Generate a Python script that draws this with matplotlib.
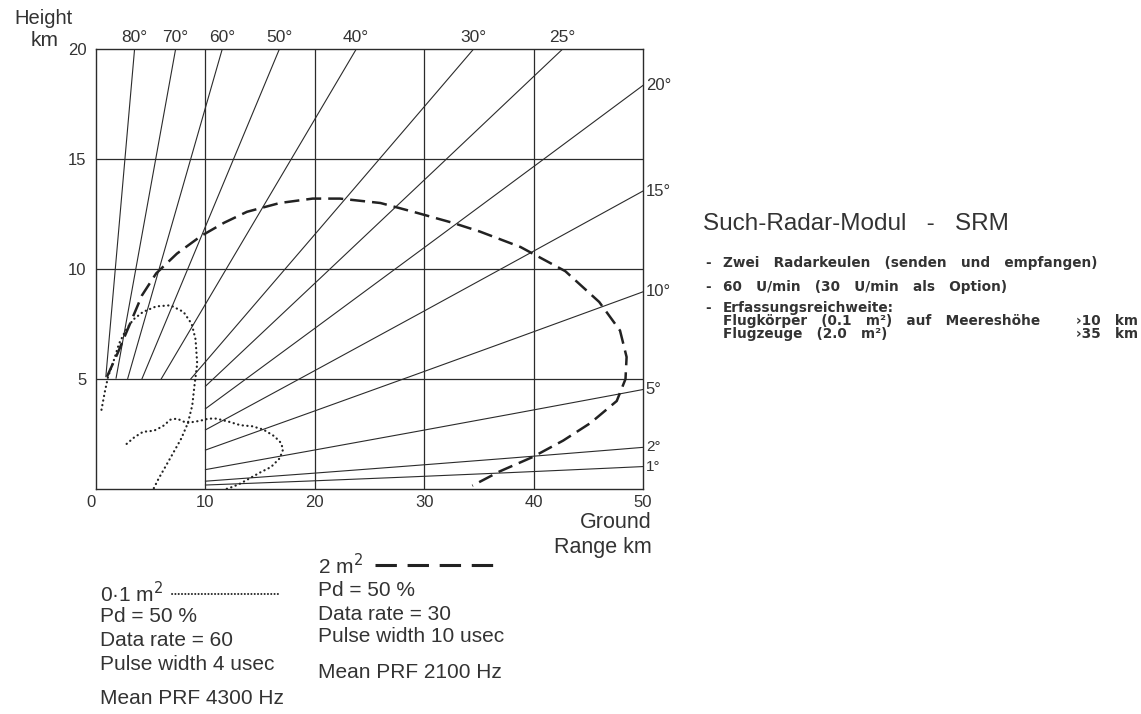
import numpy as np
import matplotlib
matplotlib.use("Agg")
import matplotlib.pyplot as plt
from matplotlib.lines import Line2D

# ── data ───────────────────────────────────────────
top_angles = [80, 70, 60, 50, 40, 30, 25]      # elevation lines labelled on top
side_angles = [20, 15, 10, 5, 2, 1]            # elevation lines labelled on the right
x_ticks = [0, 10, 20, 30, 40, 50]
y_ticks = [5, 10, 15, 20]
R_EFF = 8500.0                                  # 4/3 earth radius, km

# 2 m2 coverage (dashed)
big_x = [1.0, 2.0, 3.1, 4.2, 5.5, 7.4, 9.6, 11.7, 13.8, 16.8, 19.8, 22.3, 26.0,
         29.0, 32.6, 35.1, 38.8, 42.9, 46.0, 47.9, 48.5, 48.4, 47.6, 45.2, 42.7,
         39.9, 36.9, 34.4]
big_y = [5.1, 6.2, 7.5, 8.8, 9.8, 10.7, 11.5, 12.1, 12.6, 13.0, 13.2, 13.2, 13.0,
         12.6, 12.1, 11.7, 11.0, 9.9, 8.5, 7.2, 6.0, 5.0, 4.0, 3.0, 2.2,
         1.45, 0.8, 0.15]

# 0.1 m2 coverage (dotted), upper and lower lobe
small_up_x = [0.5, 0.8, 1.1, 1.6, 2.1, 2.7, 3.4, 4.3, 5.5, 6.8, 8.0, 8.75, 9.1,
              9.25, 9.0, 8.8, 8.4, 7.8, 6.9, 6.1, 5.7, 5.25]
small_up_y = [3.6, 4.4, 5.1, 5.8, 6.6, 7.2, 7.7, 8.05, 8.3, 8.35, 8.05, 7.5, 6.8,
              5.7, 4.7, 3.8, 3.0, 2.3, 1.5, 0.8, 0.45, 0.0]
small_lo_x = [2.8, 3.5, 4.3, 5.3, 6.1, 6.8, 7.4, 8.3, 9.5, 10.3, 11.0, 12.2, 13.2,
              14.3, 15.3, 16.3, 16.9, 17.1, 16.8, 16.0, 15.0, 14.1, 13.2, 12.5, 11.9]
small_lo_y = [2.05, 2.35, 2.6, 2.65, 2.85, 3.15, 3.2, 3.0, 3.1, 3.2, 3.2, 3.05, 2.9,
              2.85, 2.7, 2.4, 2.1, 1.8, 1.4, 1.0, 0.75, 0.5, 0.25, 0.1, 0.0]

left_notes = ["0·1 m$^2$", "Pd = 50 %", "Data rate = 60", "Pulse width 4 usec",
              "Mean PRF 4300 Hz"]
right_notes = ["2 m$^2$", "Pd = 50 %", "Data rate = 30", "Pulse width 10 usec",
               "Mean PRF 2100 Hz"]
bullets = ["Zwei   Radarkeulen   (senden   und   empfangen)",
           "60   U/min   (30   U/min   als   Option)",
           "Erfassungsreichweite:"]

W, H = 1141, 714
LINE_C = "#2b2b2b"
TXT_C = "#333333"
plt.rcParams["font.family"] = ["Liberation Sans", "DejaVu Sans"]


def px(x, y):
    return x / W, 1 - y / H


def elev(angle, x):
    return x * np.tan(np.radians(angle)) + x ** 2 / (2 * R_EFF)


fig = plt.figure(figsize=(W / 100, H / 100), dpi=100)
ax = fig.add_axes([96 / W, 1 - 489 / H, (643 - 96) / W, (489 - 49) / H])
ax.set_xlim(0, 50)
ax.set_ylim(0, 20)

# ── grid ───────────────────────────────────────────
for gx in x_ticks[1:-1]:
    ax.axvline(gx, color=LINE_C, lw=0.9)
for gy in y_ticks[:-1]:
    ax.axhline(gy, color=LINE_C, lw=0.9)
for s in ax.spines.values():
    s.set_color(LINE_C)
    s.set_linewidth(1.0)

# ── elevation lines (blank inside the 10 km x 5 km corner) ──
xs = np.linspace(0, 50, 1500)
for a in top_angles + side_angles:
    ys = elev(a, xs)
    ys = np.where((xs < 10) & (ys < 5), np.nan, ys)
    ax.plot(xs, ys, color=LINE_C, lw=0.8)

for a in top_angles:
    xt = xs[np.argmin(np.abs(elev(a, xs) - 20))]
    ax.annotate(f"{a}°", (xt, 20), xytext=(0, 3), textcoords="offset points",
                ha="center", va="bottom", fontsize=12.5, color=TXT_C,
                annotation_clip=False)
for a in side_angles:
    ax.annotate(f"{a}°", (50, elev(a, 50)), xytext=(2, 0), textcoords="offset points",
                ha="left", va="center", fontsize=12 if a > 2 else 11, color=TXT_C,
                annotation_clip=False)

# ── coverage curves ────────────────────────────────
ax.plot(big_x, big_y, color="#222222", lw=1.8, dashes=(6, 2.8))
ax.plot(small_up_x, small_up_y, color="#222222", lw=1.6, ls=(0, (0.1, 2.0)),
        dash_capstyle="round")
ax.plot(small_lo_x, small_lo_y, color="#222222", lw=1.6, ls=(0, (0.1, 2.0)),
        dash_capstyle="round")

# ── axes labels ────────────────────────────────────
ax.set_xticks(x_ticks)
ax.set_yticks(y_ticks)
ax.tick_params(length=0, labelsize=12, labelcolor=TXT_C)
ax.tick_params(axis="x", pad=4)
ax.tick_params(axis="y", pad=7)
ax.get_xticklabels()[0].set_ha("right")

fig.text(*px(14, 18), "Height", fontsize=14.5, color=TXT_C, va="center")
fig.text(*px(31, 40), "km", fontsize=15, color=TXT_C, va="center")
fig.text(*px(652, 522), "Ground", fontsize=15.5, color=TXT_C, va="center", ha="right")
fig.text(*px(652, 548), "Range km", fontsize=15.5, color=TXT_C, va="center", ha="right")

# ── description block ──────────────────────────────
fig.text(*px(703, 224), "Such-Radar-Modul   -   SRM", fontsize=17.5, color=TXT_C,
         va="center")
bold = dict(fontsize=9.8, color=TXT_C, va="center", weight="bold",
            family="DejaVu Sans")
for t, y in zip(bullets, [263, 287, 308]):
    fig.text(*px(705, y), "-", **bold)
    fig.text(*px(723, y), t, **bold)
fig.text(*px(723, 321), "Flugkörper   (0.1   m²)   auf   Meereshöhe", **bold)
fig.text(*px(723, 334), "Flugzeuge   (2.0   m²)", **bold)
fig.text(*px(1138, 321), "›10   km", ha="right", **bold)
fig.text(*px(1138, 334), "›35   km", ha="right", **bold)

# ── legend notes ───────────────────────────────────
for t, y in zip(left_notes, [594, 617, 640, 664, 698]):
    fig.text(*px(100, y), t, fontsize=15, color=TXT_C, va="center")
for t, y in zip(right_notes, [566, 591, 614, 637, 673]):
    fig.text(*px(318, y), t, fontsize=15, color=TXT_C, va="center")

fig.add_artist(Line2D([172 / W, 281 / W], [1 - 594 / H] * 2, color="#222222",
                      lw=1.4, ls=(0, (0.1, 1.6)), dash_capstyle="round"))
fig.add_artist(Line2D([375 / W, 497 / W], [1 - 565 / H] * 2, color="#222222",
                      lw=2.2, dashes=(7, 3.5)))

fig.savefig("out.png", dpi=100, facecolor="white")
